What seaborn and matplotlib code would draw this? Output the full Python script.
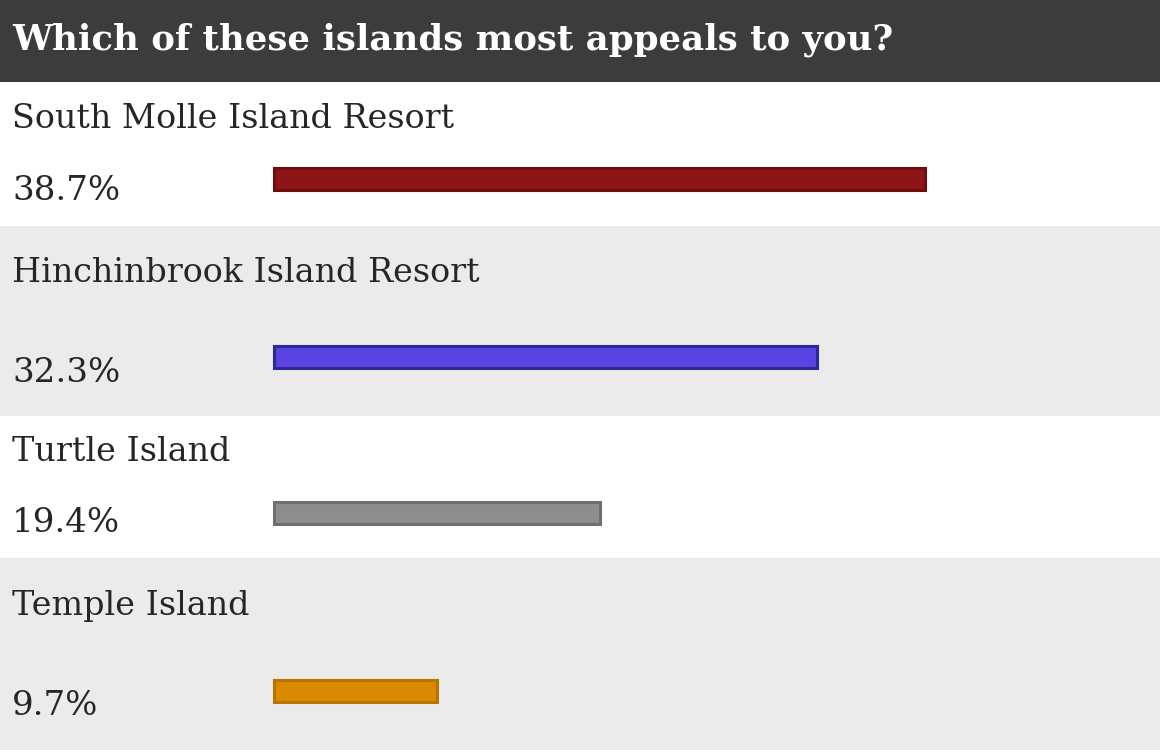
import matplotlib
matplotlib.use("Agg")
import matplotlib.pyplot as plt
import seaborn as sns
import pandas as pd

# ---- data ----
title = "Which of these islands most appeals to you?"
islands = ["South Molle Island Resort", "Hinchinbrook Island Resort", "Turtle Island", "Temple Island"]
percent = [38.7, 32.3, 19.4, 9.7]
pct_labels = ["38.7%", "32.3%", "19.4%", "9.7%"]

# ---- styles / layout (pixels) ----
W, H = 1160, 750
fill_colors = ["#8e1516", "#5a43e0", "#8d8d8d", "#d98a00"]
edge_colors = ["#6e0d0e", "#2c2a9a", "#6f6f6f", "#b87400"]
row_bg = ["#ffffff", "#ebebeb", "#ffffff", "#ebebeb"]
rows = [(82, 144), (226, 190), (416, 142), (558, 192)]   # top, height
bar_center = [97, 131, 97, 133]       # from row top
label_y = [37, 47, 36, 48]            # label vertical center from row top
pct_y = [109, 147, 107, 148]
x0_px = 274
px_per_pct = 16.82
bar_h = 22
text_col = "#262626"

sns.set_theme(style="white")
plt.rcParams["font.family"] = ["DejaVu Serif", "DejaVu Sans"]

fig = plt.figure(figsize=(W / 100, H / 100), dpi=100)
fig.patch.set_facecolor("white")

# header
hax = fig.add_axes([0, 1 - 82 / H, 1, 82 / H])
hax.set_facecolor("#3c3c3c")
hax.set_xticks([]); hax.set_yticks([])
for s in hax.spines.values():
    s.set_visible(False)
hax.text(12 / W, 0.52, title, transform=hax.transAxes, color="white",
         fontsize=25.6, fontweight="bold", va="center", ha="left")

df = pd.DataFrame({"island": islands, "percent": percent})

for i, (top, h) in enumerate(rows):
    ax = fig.add_axes([0, 1 - (top + h) / H, 1, h / H])
    ax.set_facecolor(row_bg[i])
    sub = df.iloc[[i]].copy()
    sub["pos"] = 0
    sns.barplot(data=sub, x="percent", y="pos", orient="h", native_scale=True,
                width=bar_h, color=fill_colors[i], edgecolor=edge_colors[i],
                linewidth=2.2, saturation=1, ax=ax)
    c = bar_center[i]
    ax.set_ylim(h - c, -c)
    ax.set_xlim(-x0_px / px_per_pct, (W - x0_px) / px_per_pct)
    ax.set_xticks([]); ax.set_yticks([])
    ax.set_xlabel(""); ax.set_ylabel("")
    for s in ax.spines.values():
        s.set_visible(False)
    ax.text(12 / W, 1 - label_y[i] / h, islands[i], transform=ax.transAxes,
            fontsize=24, color=text_col, va="center", ha="left")
    ax.text(12 / W, 1 - pct_y[i] / h, pct_labels[i], transform=ax.transAxes,
            fontsize=24.5, color=text_col, va="center", ha="left")

fig.savefig("out.png", dpi=100)
